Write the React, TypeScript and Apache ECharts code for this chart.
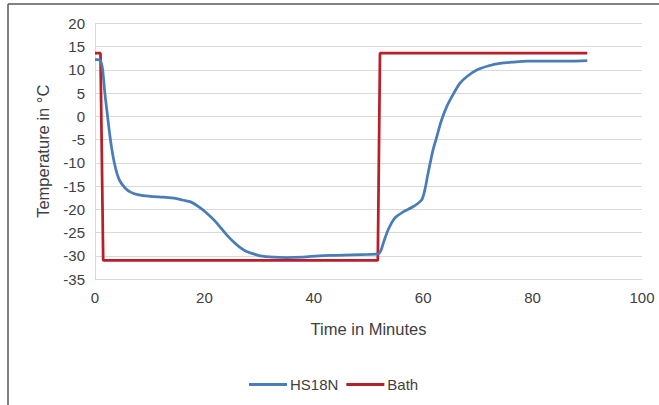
import React, { useEffect, useRef } from "react";
import * as echarts from "echarts";

const hsTime = [0, 0.5, 1, 1.4, 1.8, 2.2, 2.6, 3, 3.5, 4, 4.5, 5.5, 6.5, 8, 10, 12.5, 14.5, 16, 17.5, 19, 20.5, 22, 23, 24, 25.3, 26.5, 27.7, 29, 30.2, 32.6, 35, 38, 41, 44, 47, 50, 51.8, 52.3, 52.7, 53.6, 54.8, 56.4, 58.2, 59.7, 60.3, 60.9, 61.8, 62.5, 63.3, 64.3, 65.5, 66.7, 68, 69.8, 72, 74, 76.5, 79, 84, 87, 90];
const hsTemp = [12.2, 12.2, 12, 10, 5, 1, -3, -6.5, -9.8, -12.2, -13.8, -15.4, -16.3, -16.9, -17.2, -17.4, -17.6, -18, -18.4, -19.5, -20.9, -22.6, -24, -25.4, -27, -28.2, -29.1, -29.6, -30, -30.3, -30.4, -30.3, -30, -29.9, -29.8, -29.7, -29.6, -28.8, -27.3, -24.4, -21.9, -20.5, -19.4, -18, -15.8, -12.2, -7.2, -4.3, -1, 2.1, 4.8, 7.1, 8.6, 10, 10.9, 11.4, 11.7, 11.9, 11.9, 11.9, 12];

const bathTime = [0, 1, 1.5, 51.7, 52.1, 90];
const bathTemp = [13.6, 13.6, -31, -31, 13.6, 13.6];

const seriesNames = ["HS18N", "Bath"];
const xName = "Time in Minutes";
const yName = "Temperature in °C";

export default function App() {
  const ref = useRef<HTMLDivElement>(null);
  useEffect(() => {
    if (!ref.current) return;
    const chart = echarts.init(ref.current, null, { renderer: "svg" });
    const font = "'Liberation Sans', Arial, sans-serif";
    chart.setOption({
      animation: false,
      backgroundColor: "#ffffff",
      textStyle: { fontFamily: font },
      grid: { left: 95, right: 17, top: 23.5, bottom: 126, containLabel: false },
      legend: {
        left: 244,
        top: 372,
        icon: "rect",
        itemWidth: 38,
        itemHeight: 3,
        itemGap: 8,
        textStyle: { fontFamily: font, fontSize: 15, color: "#404040", padding: [0, 0, 0, -2] },
        data: seriesNames,
      },
      xAxis: {
        type: "value",
        min: 0,
        max: 100,
        interval: 20,
        name: xName,
        nameLocation: "middle",
        nameGap: 41,
        nameTextStyle: { fontFamily: font, fontSize: 16.5, color: "#404040" },
        axisLine: { show: true, onZero: false, lineStyle: { color: "#d9d9d9", width: 1 } },
        axisTick: { show: false },
        splitLine: { show: false },
        axisLabel: { fontFamily: font, fontSize: 15, color: "#404040", margin: 11 },
      },
      yAxis: {
        type: "value",
        min: -35,
        max: 20,
        interval: 5,
        name: yName,
        nameLocation: "middle",
        nameGap: 44,
        nameTextStyle: { fontFamily: font, fontSize: 16.5, color: "#404040" },
        axisLine: { show: true, lineStyle: { color: "#d9d9d9", width: 1 } },
        axisTick: { show: false },
        splitLine: { show: true, lineStyle: { color: "#d9d9d9", width: 1 } },
        axisLabel: { fontFamily: font, fontSize: 15, color: "#404040", margin: 10 },
      },
      graphic: [
        { type: "line", shape: { x1: 8, y1: 4, x2: 8, y2: 405 }, style: { stroke: "#595959", lineWidth: 1.5 } },
        { type: "line", shape: { x1: 8, y1: 4, x2: 659, y2: 4 }, style: { stroke: "#595959", lineWidth: 1.5 } },
      ],
      series: [
        {
          name: seriesNames[0],
          type: "line",
          symbol: "none",
          smooth: 0.3,
          data: hsTime.map((t, i) => [t, hsTemp[i]]),
          lineStyle: { color: "#4a7db8", width: 2.75 },
          itemStyle: { color: "#4a7db8" },
          z: 3,
        },
        {
          name: seriesNames[1],
          type: "line",
          symbol: "none",
          data: bathTime.map((t, i) => [t, bathTemp[i]]),
          lineStyle: { color: "#b81f2b", width: 2.75 },
          itemStyle: { color: "#b81f2b" },
          z: 2,
        },
      ],
    });
    return () => chart.dispose();
  }, []);
  return (
    <div
      ref={ref}
      style={{ position: "absolute", left: 0, top: 0, width: 659, height: 405 }}
    />
  );
}
